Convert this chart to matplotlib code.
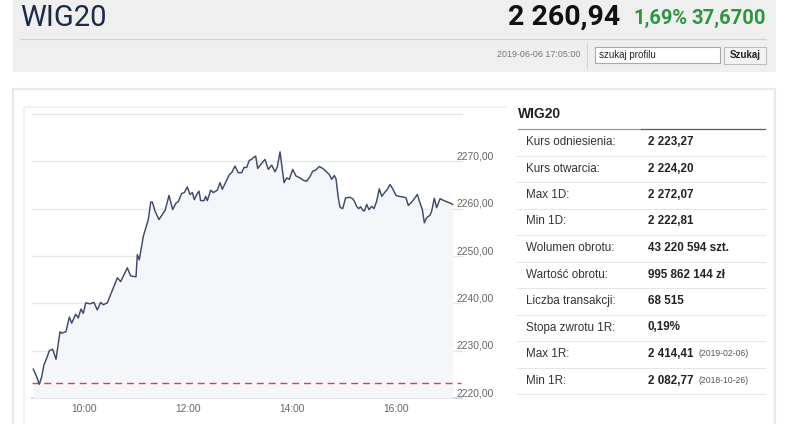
import matplotlib
matplotlib.use("Agg")
import matplotlib.pyplot as plt
from matplotlib.patches import Rectangle
from matplotlib.transforms import blended_transform_factory

# --- data ---
minutes = [1.5, 5.4, 8.5, 11.2, 13.8, 16.9, 20.0, 23.8, 27.7, 32.3, 34.2, 39.2,
           43.1, 45.8, 50.4, 53.4, 56.5, 59.2, 62.0, 66.9, 71.5, 75.3, 79.2, 82.3,
           86.9, 98.5, 102.3, 110.0, 113.8, 120.0, 121.5, 123.8, 128.5, 134.2,
           137.0, 138.8, 141.9, 146.5, 151.5, 153.5, 158.1, 162.3, 165.8, 168.8,
           172.7, 175.8, 179.2, 182.3, 185.0, 187.3, 190.0, 192.7, 194.6, 198.5,
           200.4, 202.3, 206.2, 209.2, 213.8, 216.9, 219.6, 222.7, 227.7, 230.4,
           234.2, 238.0, 242.0, 244.6, 247.7, 250.7, 253.5, 255.3, 258.1, 260.4,
           264.2, 268.8, 272.7, 276.6, 280.4, 283.0, 286.2, 290.8, 293.9, 296.9,
           300.8, 304.6, 309.2, 313.0, 317.0, 320.8, 323.8, 327.7, 331.5, 335.4,
           339.2, 343.1, 345.8, 348.8, 350.8, 353.4, 355.4, 358.5, 361.9, 366.9,
           370.0, 371.9, 374.6, 377.0, 379.2, 381.5, 383.5, 386.2, 388.8, 391.9,
           394.6, 397.7, 400.8, 403.5, 407.3, 410.0, 413.1, 416.2, 420.0, 423.8,
           427.7, 431.5, 434.2, 438.1, 441.9, 444.6, 447.7, 450.4, 452.7, 455.4,
           459.2, 461.2, 464.2, 466.9, 470.8, 476.5, 482.3, 485.4]
values = [2226.1, 2224.5, 2222.9, 2224.5, 2227.0, 2228.4, 2230.0, 2230.3, 2228.2,
          2234.0, 2233.7, 2234.0, 2237.1, 2235.8, 2237.7, 2236.9, 2238.8, 2237.9,
          2240.1, 2239.9, 2240.2, 2238.6, 2240.2, 2239.7, 2240.1, 2245.4, 2244.6,
          2247.5, 2245.8, 2245.6, 2250.3, 2249.2, 2254.2, 2257.7, 2261.4, 2261.4,
          2259.5, 2257.7, 2259.1, 2259.6, 2262.8, 2259.8, 2261.1, 2261.5, 2263.2,
          2263.4, 2264.6, 2263.0, 2263.4, 2261.9, 2263.0, 2263.7, 2261.7, 2261.7,
          2262.6, 2261.7, 2263.9, 2263.4, 2263.9, 2265.5, 2264.1, 2265.3, 2267.2,
          2267.6, 2269.0, 2267.6, 2267.6, 2268.7, 2268.7, 2270.2, 2270.4, 2270.8,
          2271.1, 2268.5, 2269.4, 2270.4, 2268.3, 2269.2, 2267.8, 2268.8, 2272.0,
          2265.5, 2266.5, 2266.2, 2268.3, 2266.9, 2266.5, 2266.0, 2265.8, 2266.8,
          2267.9, 2268.2, 2268.9, 2268.5, 2267.9, 2267.2, 2266.2, 2267.0, 2266.3,
          2262.3, 2260.3, 2260.0, 2262.3, 2262.4, 2262.1, 2261.6, 2260.5, 2260.0,
          2260.4, 2259.7, 2259.5, 2260.9, 2259.8, 2260.5, 2260.0, 2261.6, 2264.2,
          2262.6, 2263.5, 2264.1, 2265.1, 2264.2, 2262.8, 2262.6, 2262.5, 2262.3,
          2260.7, 2261.4, 2262.3, 2263.0, 2261.2, 2259.8, 2257.0, 2258.1, 2258.6,
          2259.5, 2262.2, 2260.2, 2262.1, 2261.6, 2261.2, 2260.9]
ref_level = 2223.27
y_ticks = [2220, 2230, 2240, 2250, 2260, 2270, 2280]
x_ticks = [60, 180, 300, 420]
x_labels = ["10:00", "12:00", "14:00", "16:00"]

stat_labels = ["Kurs odniesienia:", "Kurs otwarcia:", "Max 1D:", "Min 1D:",
               "Wolumen obrotu:", "Wartość obrotu:", "Liczba transakcji:",
               "Stopa zwrotu 1R:", "Max 1R:", "Min 1R:"]
stat_values = ["2 223,27", "2 224,20", "2 272,07", "2 222,81", "43 220 594 szt.",
               "995 862 144 zł", "68 515", "0,19%", "2 414,41", "2 082,77"]
stat_notes = ["", "", "", "", "", "", "", "", "(2019-02-06)", "(2018-10-26)"]

W, H = 786, 424
head = ["Roboto", "DejaVu Sans"]
sans = ["Liberation Sans", "DejaVu Sans"]

fig = plt.figure(figsize=(W / 100, H / 100), dpi=100)
fig.patch.set_facecolor("white")

# page layer in pixel coordinates
pg = fig.add_axes([0, 0, 1, 1])
pg.set_xlim(0, W)
pg.set_ylim(H, 0)
pg.axis("off")

# header
pg.add_patch(Rectangle((13, 0), 763, 72, facecolor="#efefef", edgecolor="none"))
pg.plot([20, 766], [38.5, 38.5], color="#d2d2d2", lw=0.8)
pg.text(20, 17.5, "WIG20", family=head, fontsize=21, color="#1b2a47",
        ha="left", va="center")
pg.text(620, 17.5, "2 260,94", family=head, fontsize=20.5, fontweight="bold",
        color="#111111", ha="right", va="center")
pg.text(633, 18.5, "1,69%", family=head, fontsize=14.5, fontweight="bold",
        color="#2c9643", ha="left", va="center")
pg.text(766, 18.5, "37,6700", family=head, fontsize=14.5, fontweight="bold",
        color="#2c9643", ha="right", va="center")
pg.text(580, 54.5, "2019-06-06 17:05:00", family=sans, fontsize=6.4,
        color="#777777", ha="right", va="center")
pg.plot([586.5, 586.5], [43, 68], color="#d6d6d6", lw=0.8)
pg.add_patch(Rectangle((595, 47), 125, 16, facecolor="white",
                       edgecolor="#a9a9a9", lw=0.8))
pg.text(599, 55, "szukaj profilu", family=sans, fontsize=7, color="#222222",
        ha="left", va="center")
pg.add_patch(Rectangle((724, 47), 42, 17, facecolor="#f3f3f3",
                       edgecolor="#bdbdbd", lw=0.8))
pg.text(745, 55.5, "Szukaj", family=sans, fontsize=7, fontweight="bold",
        color="#222222", ha="center", va="center")

# panel frames
pg.plot([13, 13, 775, 775], [H + 5, 89, 89, H + 5], color="#e9e9e9", lw=1.6)
pg.plot([23.5, 23.5, 505], [H + 5, 106.5, 106.5], color="#efefef", lw=1.2)

# statistics table
pg.text(518, 114, "WIG20", family=sans, fontsize=10, fontweight="bold",
        color="#222222", ha="left", va="center")
pg.plot([518, 641], [128.5, 128.5], color="#9a9a9a", lw=0.9)
pg.plot([641, 765], [128.5, 128.5], color="#5c5c5c", lw=0.9)
for i, (lab, val, note) in enumerate(zip(stat_labels, stat_values, stat_notes)):
    yc = 142 + i * 26.5
    pg.text(526, yc, lab, family=sans, fontsize=8.4, color="#333333",
            ha="left", va="center")
    vt = pg.text(648, yc, val, family=sans, fontsize=8.4, fontweight="bold",
                 color="#222222", ha="left", va="center")
    if note:
        pg.annotate(note, xy=(1, 0.5), xycoords=vt, xytext=(3.5, 0),
                    textcoords="offset points", family=sans, fontsize=6.2,
                    color="#555555", ha="left", va="center")
    pg.plot([517, 765], [yc + 13.5, yc + 13.5], color="#e6e6e6", lw=0.8)

# chart
x_left, x_right, y_top, y_bot = 32, 462, 114, 398
ax = fig.add_axes([x_left / W, (H - y_bot) / H, (x_right - x_left) / W,
                   (y_bot - y_top) / H])
ax.set_facecolor("none")
ax.set_xlim(0, (x_right - x_left) * 60 / 52)
ax.set_ylim(y_ticks[0], y_ticks[-1])
for s in ax.spines.values():
    s.set_visible(False)
ax.set_xticks([])
ax.set_yticks([])

for v in y_ticks[1:]:
    ax.axhline(v, color="#e6e6e6", lw=1.0, zorder=1, clip_on=False)
ax.axhline(y_ticks[0], color="#ccd6eb", lw=1.3, zorder=1, clip_on=False)

ax.fill_between(minutes, values, y_ticks[0], color="#f4f6f9", lw=0, zorder=2)
ax.plot(minutes, values, color="#3c4b69", lw=1.05, zorder=4)
ax.axhline(ref_level, xmax=0.997, color="#f03a3a", lw=1.0,
           dashes=(5, 3.5), zorder=3)

tr = blended_transform_factory(ax.transAxes, ax.transData)
for v in y_ticks[:-1]:
    ax.annotate(f"{v},00", xy=(1, v), xycoords=tr, xytext=(-4.3, 3.6),
                textcoords="offset points", family=sans, fontsize=7.4,
                color="#666666", ha="left", va="center", annotation_clip=False)
for t, lab in zip(x_ticks, x_labels):
    ax.annotate(lab, xy=(t, y_ticks[0]), xytext=(0, -7.9),
                textcoords="offset points", family=sans, fontsize=7.4,
                color="#666666", ha="center", va="center", annotation_clip=False)

fig.savefig("out.png", dpi=100)
